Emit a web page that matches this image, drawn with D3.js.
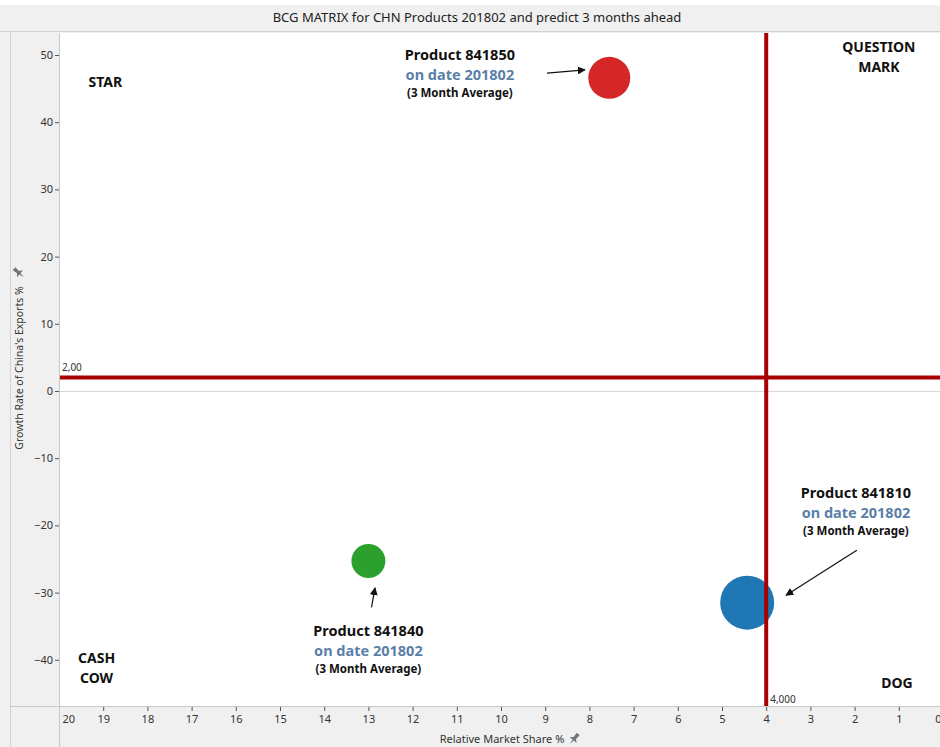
<!DOCTYPE html>
<html>
<head>
<meta charset="utf-8">
<script src="https://cdn.jsdelivr.net/npm/d3@7"></script>
<style>
  html, body { margin: 0; padding: 0; background: #ffffff; }
  svg { display: block; font-family: "Noto Sans", "Open Sans", sans-serif; }
</style>
</head>
<body>
<svg id="chart" width="940" height="747"></svg>
<script>
// Products plotted in the BCG matrix
const products   = ["841850", "841840", "841810"];
const marketShare = [7.55, 13.0, 4.43];     // relative market share %
const growthRate  = [46.6, -25.3, -31.5];   // growth rate of exports %
const bubbleSize  = [441, 289, 729];        // bubble size measure
const bubbleColor = ["#d62728", "#2ca02c", "#1f77b4"];

const xTicks = d3.range(20, -1, -1);
const yTicks = [50, 40, 30, 20, 10, 0, -10, -20, -30, -40];

const growthRef = 2.0;
const shareRef = 4.0;

const quadrants = [
  { lines: ["STAR"], x: 18.95, y: 45.2 },
  { lines: ["QUESTION", "MARK"], x: 1.45, y: 50.4 },
  { lines: ["CASH", "COW"], x: 19.15, y: -40.5 },
  { lines: ["DOG"], x: 1.04, y: -44.2 }
];

// annotation text blocks and their arrows (in data units)
const notes = [
  { i: 0, tx: 10.93, ty: 49.26, arrow: [[8.96, 47.3], [8.1, 47.8]] },
  { i: 1, tx: 13.0, ty: -36.46, arrow: [[12.93, -32.2], [12.85, -29.3]] },
  { i: 2, tx: 1.97, ty: -15.9, arrow: [[1.95, -23.7], [3.55, -30.4]] }
];

const W = 940, H = 747;
const plot = { left: 60, right: 943, top: 33, bottom: 706 };

const svg = d3.select("#chart");

const x = d3.scaleLinear().domain([20, 0]).range([59, 943]);
const y = d3.scaleLinear().domain([0, 50]).range([391, 55]);
const r = d3.scaleSqrt().domain([0, d3.max(bubbleSize)]).range([0, 27]);

// frame backgrounds
svg.append("rect").attr("width", W).attr("height", H).attr("fill", "#f0f0f0");
svg.append("rect").attr("x", 0).attr("y", 0).attr("width", W).attr("height", 5).attr("fill", "#ffffff");
svg.append("line").attr("x1", 0).attr("x2", W).attr("y1", 31.5).attr("y2", 31.5)
  .attr("stroke", "#d0d0d0");
svg.append("line").attr("x1", 10.5).attr("x2", 10.5).attr("y1", 32).attr("y2", H)
  .attr("stroke", "#d4d4d4");

svg.append("text")
  .attr("x", 477).attr("y", 22)
  .attr("text-anchor", "middle")
  .attr("font-size", 13).attr("fill", "#222")
  .text("BCG MATRIX for CHN Products 201802 and predict 3 months ahead");

// plot area
svg.append("rect")
  .attr("x", plot.left).attr("y", plot.top)
  .attr("width", W - plot.left).attr("height", plot.bottom - plot.top)
  .attr("fill", "#ffffff");
svg.append("line").attr("x1", plot.left - 0.5).attr("x2", plot.left - 0.5)
  .attr("y1", plot.top).attr("y2", H).attr("stroke", "#c8c8c8");
svg.append("line").attr("x1", 10).attr("x2", W)
  .attr("y1", plot.bottom + 0.5).attr("y2", plot.bottom + 0.5).attr("stroke", "#c8c8c8");

// zero line
svg.append("line")
  .attr("x1", plot.left).attr("x2", W)
  .attr("y1", y(0) + 0.5).attr("y2", y(0) + 0.5)
  .attr("stroke", "#d8d8d8");

// y axis
const yAxis = svg.append("g")
  .attr("transform", `translate(${plot.left - 1},0)`)
  .call(d3.axisLeft(y).tickValues(yTicks).tickSize(4).tickPadding(2).tickFormat(d3.format("d")));
yAxis.select(".domain").remove();
yAxis.selectAll("line").attr("stroke", "#555");
yAxis.selectAll("text").attr("font-size", 11).attr("fill", "#333")
  .attr("font-family", "Noto Sans, sans-serif");

// x axis
const xAxis = svg.append("g")
  .attr("transform", `translate(0,${plot.bottom + 1})`)
  .call(d3.axisBottom(x).tickValues(xTicks).tickSize(4).tickPadding(4).tickFormat(d3.format("d")));
xAxis.select(".domain").remove();
xAxis.selectAll("line").attr("stroke", "#555");
xAxis.selectAll("text").attr("font-size", 11).attr("fill", "#333")
  .attr("font-family", "Noto Sans, sans-serif");
xAxis.selectAll(".tick").filter(d => d === 20).select("text")
  .attr("text-anchor", "start").attr("dx", 3);
xAxis.selectAll(".tick").filter(d => d === 20).select("line").remove();
// last label is pulled inside the frame so it stays on the page
xAxis.selectAll(".tick").filter(d => d === 0).select("text")
  .attr("text-anchor", "end").attr("dx", -2);

// axis titles with pin glyphs
function pin(g, px, py, rot) {
  g.append("path")
    .attr("transform", `translate(${px},${py}) rotate(${rot}) scale(1.3)`)
    .attr("d", "M-1.5,-5 L1.5,-5 L1.2,-1 L3.5,1 L0.6,1 L0,5 L-0.6,1 L-3.5,1 L-1.2,-1 Z")
    .attr("fill", "#6f7580");
}
svg.append("text")
  .attr("x", 502).attr("y", 743)
  .attr("text-anchor", "middle")
  .attr("font-size", 11).attr("fill", "#333")
  .text("Relative Market Share %");
pin(svg, 574, 739, 40);

svg.append("text")
  .attr("transform", "translate(23,368) rotate(-90)")
  .attr("text-anchor", "middle")
  .attr("font-size", 10.5).attr("fill", "#333")
  .text("Growth Rate of China's Exports %");
pin(svg, 19, 273, -50);

// reference lines
const refColor = "#a80000";
svg.append("line")
  .attr("x1", plot.left).attr("x2", W)
  .attr("y1", y(growthRef)).attr("y2", y(growthRef))
  .attr("stroke", refColor).attr("stroke-width", 4);
svg.append("text")
  .attr("x", plot.left + 2).attr("y", y(growthRef) - 7)
  .attr("font-size", 10).attr("fill", "#333")
  .text(d3.format(".2f")(growthRef).replace(".", ","));

svg.append("text")
  .attr("x", x(shareRef) + 4).attr("y", plot.bottom - 3)
  .attr("font-size", 10).attr("fill", "#333")
  .text(d3.format(".3f")(shareRef).replace(".", ","));

// bubbles
svg.append("g").selectAll("circle")
  .data(products.map((p, i) => ({ p, sx: marketShare[i], gy: growthRate[i], s: bubbleSize[i], c: bubbleColor[i] })))
  .join("circle")
  .attr("cx", d => x(d.sx))
  .attr("cy", d => y(d.gy))
  .attr("r", d => r(d.s))
  .attr("fill", d => d.c);

// vertical reference line sits on top of the bubble it crosses
svg.append("line")
  .attr("x1", x(shareRef)).attr("x2", x(shareRef))
  .attr("y1", plot.top).attr("y2", plot.bottom)
  .attr("stroke", refColor).attr("stroke-width", 4);

// quadrant labels
quadrants.forEach(q => {
  const t = svg.append("text")
    .attr("x", x(q.x)).attr("y", y(q.y))
    .attr("text-anchor", "middle")
    .attr("font-size", 14).attr("font-weight", "bold").attr("fill", "#111");
  q.lines.forEach((l, k) => {
    t.append("tspan").attr("x", x(q.x)).attr("dy", k === 0 ? 0 : 20).text(l);
  });
});

// arrowhead
svg.append("defs").append("marker")
  .attr("id", "head")
  .attr("viewBox", "0 0 10 10")
  .attr("refX", 9).attr("refY", 5)
  .attr("markerWidth", 8).attr("markerHeight", 8)
  .attr("markerUnits", "userSpaceOnUse")
  .attr("orient", "auto")
  .append("path").attr("d", "M0,0 L10,5 L0,10 Z").attr("fill", "#111");

// annotations
notes.forEach(n => {
  const cx = x(n.tx), cy = y(n.ty);
  svg.append("text").attr("x", cx).attr("y", cy)
    .attr("text-anchor", "middle").attr("font-size", 14.5).attr("font-weight", "bold")
    .attr("fill", "#111").text("Product " + products[n.i]);
  svg.append("text").attr("x", cx).attr("y", cy + 20)
    .attr("text-anchor", "middle").attr("font-size", 14.5).attr("font-weight", "bold")
    .attr("fill", "#5a7fa8").text("on date 201802");
  svg.append("text").attr("x", cx).attr("y", cy + 37)
    .attr("text-anchor", "middle").attr("font-size", 11.5).attr("font-weight", "bold")
    .attr("fill", "#111").text("(3 Month Average)");
  svg.append("line")
    .attr("x1", x(n.arrow[0][0])).attr("y1", y(n.arrow[0][1]))
    .attr("x2", x(n.arrow[1][0])).attr("y2", y(n.arrow[1][1]))
    .attr("stroke", "#111").attr("stroke-width", 1.2)
    .attr("marker-end", "url(#head)");
});
</script>
</body>
</html>
